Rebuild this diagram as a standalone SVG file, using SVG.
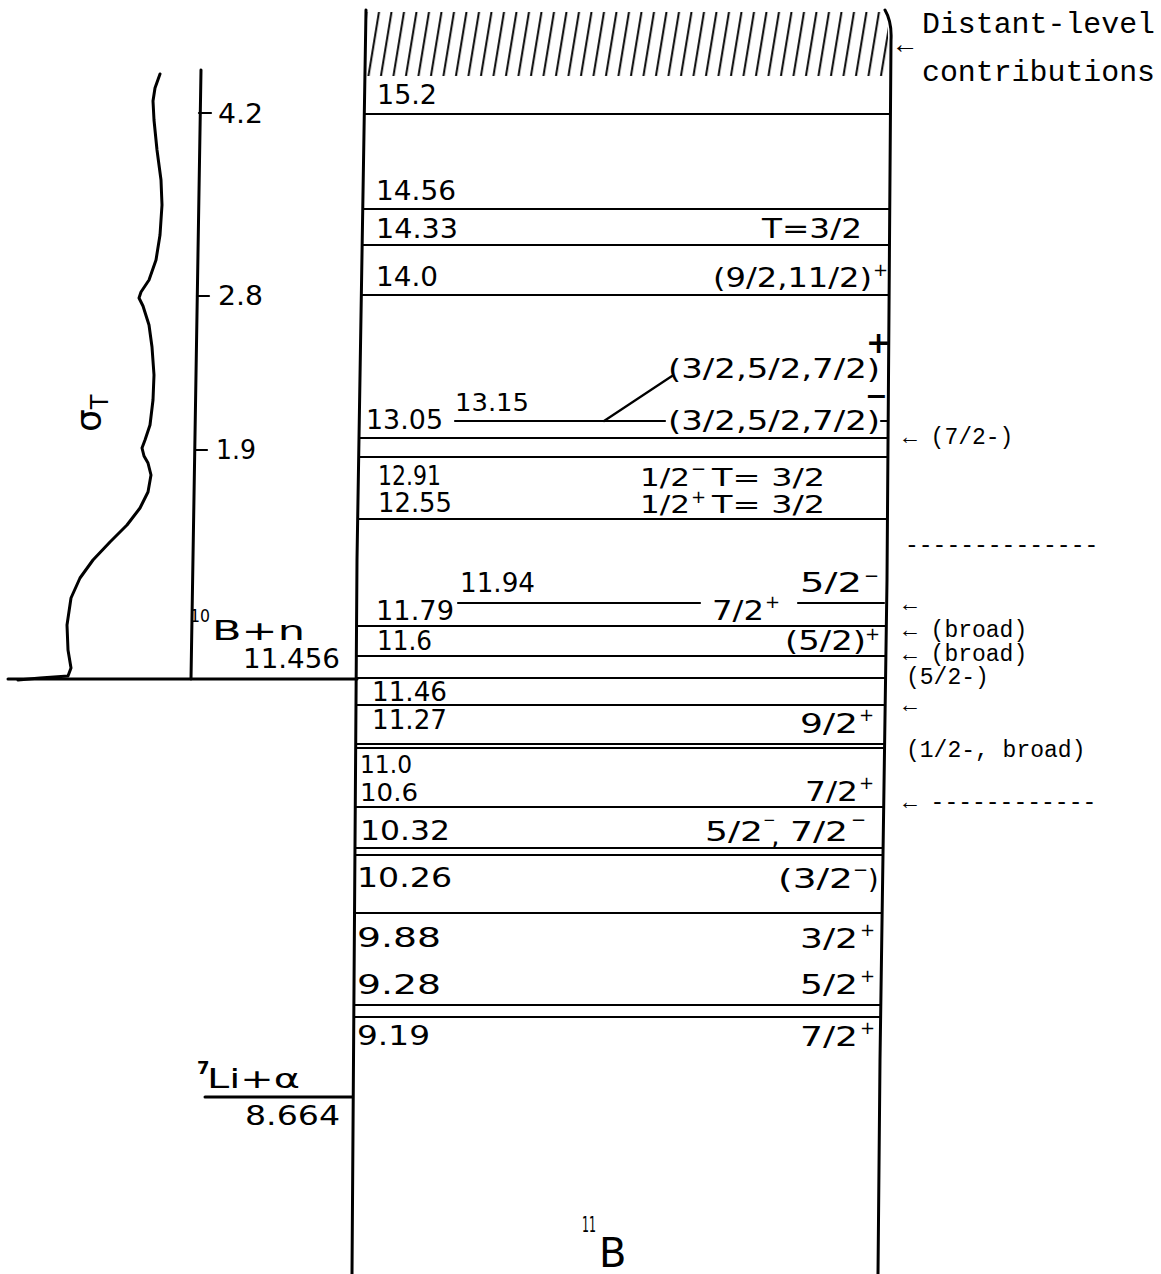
<svg xmlns="http://www.w3.org/2000/svg" width="1161" height="1274" viewBox="0 0 1161 1274">
<style>
.bg{fill:#fff}
.ln{stroke:#000;stroke-width:2.2;fill:none;stroke-linecap:round}
.edge{stroke:#000;stroke-width:3;fill:none;stroke-linecap:round;stroke-linejoin:round}
.t{font-family:"DejaVu Sans","Liberation Sans",sans-serif;font-size:27px;fill:#000}
.s{font-family:"DejaVu Sans","Liberation Sans",sans-serif;font-size:18px;fill:#000}
.m{font-family:"Liberation Mono","DejaVu Sans Mono",monospace;font-size:23px;fill:#000}
.mb{font-family:"Liberation Mono","DejaVu Sans Mono",monospace;font-size:29px;fill:#000}
</style>
<defs>
<pattern id="hatch" patternUnits="userSpaceOnUse" width="12.5" height="200" patternTransform="skewX(-9.35)">
<line x1="6" y1="0" x2="6" y2="200" stroke="#000" stroke-width="2"/>
</pattern>
</defs>
<rect class="bg" x="0" y="0" width="1161" height="1274"/>

<g id="box">
<rect x="366" y="12" width="522" height="64" fill="url(#hatch)"/>
<path class="edge" d="M366 10 L357 560 L352 1274"/>
<path class="edge" d="M885 10 Q892 22 891 40 L887 580 L880 1060 L878 1274"/>
</g>

<g id="levels">
<line class="ln" x1="364" y1="114" x2="890" y2="114"/>
<line class="ln" x1="363" y1="209" x2="889" y2="209"/>
<line class="ln" x1="362" y1="245" x2="889" y2="245"/>
<line class="ln" x1="361" y1="295" x2="889" y2="295"/>
<line class="ln" x1="359" y1="438" x2="888" y2="438"/>
<line class="ln" x1="359" y1="457" x2="888" y2="457"/>
<line class="ln" x1="358" y1="519" x2="887" y2="519"/>
<line class="ln" x1="357" y1="626" x2="886" y2="626"/>
<line class="ln" x1="356" y1="656" x2="886" y2="656"/>
<line class="ln" x1="356" y1="678" x2="886" y2="678"/>
<line class="ln" x1="356" y1="705" x2="885" y2="705"/>
<line class="ln" x1="356" y1="744" x2="885" y2="744"/>
<line class="ln" x1="356" y1="748" x2="885" y2="748"/>
<line class="ln" x1="355" y1="807" x2="884" y2="807"/>
<line class="ln" x1="355" y1="848" x2="883" y2="848"/>
<line class="ln" x1="355" y1="855" x2="883" y2="855"/>
<line class="ln" x1="354" y1="913" x2="882" y2="913"/>
<line class="ln" x1="354" y1="1005" x2="881" y2="1005"/>
<line class="ln" x1="354" y1="1017" x2="881" y2="1017"/>
<line class="ln" x1="455" y1="421" x2="665" y2="421"/>
<line class="ln" x1="604" y1="421" x2="672" y2="376"/>
<line class="ln" x1="881" y1="421" x2="887" y2="421"/>
<line class="ln" x1="458" y1="603" x2="700" y2="603"/>
<line class="ln" x1="798" y1="603" x2="884" y2="603"/>
</g>

<g id="level-labels">
<text class="t" x="377" y="104" textLength="60" lengthAdjust="spacingAndGlyphs">15.2</text>
<text class="t" x="376" y="200" textLength="80" lengthAdjust="spacingAndGlyphs">14.56</text>
<text class="t" x="376" y="238" textLength="82" lengthAdjust="spacingAndGlyphs">14.33</text>
<text class="t" x="376" y="286" textLength="62" lengthAdjust="spacingAndGlyphs">14.0</text>
<text class="t" x="366" y="429" textLength="77" lengthAdjust="spacingAndGlyphs">13.05</text>
<text class="t" x="455" y="411" textLength="74" lengthAdjust="spacingAndGlyphs" style="font-size:25px">13.15</text>
<text class="t" x="378" y="485" textLength="63" lengthAdjust="spacingAndGlyphs">12.91</text>
<text class="t" x="378" y="512" textLength="74" lengthAdjust="spacingAndGlyphs">12.55</text>
<text class="t" x="460" y="592" textLength="75" lengthAdjust="spacingAndGlyphs">11.94</text>
<text class="t" x="376" y="620" textLength="78" lengthAdjust="spacingAndGlyphs">11.79</text>
<text class="t" x="377" y="650" textLength="55" lengthAdjust="spacingAndGlyphs">11.6</text>
<text class="t" x="372" y="701" textLength="75" lengthAdjust="spacingAndGlyphs">11.46</text>
<text class="t" x="372" y="729" textLength="75" lengthAdjust="spacingAndGlyphs">11.27</text>
<text class="t" x="360" y="773" textLength="52" lengthAdjust="spacingAndGlyphs" style="font-size:25px">11.0</text>
<text class="t" x="360" y="801" textLength="58" lengthAdjust="spacingAndGlyphs" style="font-size:25px">10.6</text>
<text class="t" x="360" y="840" textLength="90" lengthAdjust="spacingAndGlyphs">10.32</text>
<text class="t" x="357" y="887" textLength="95" lengthAdjust="spacingAndGlyphs">10.26</text>
<text class="t" x="357" y="947" textLength="84" lengthAdjust="spacingAndGlyphs">9.88</text>
<text class="t" x="357" y="994" textLength="84" lengthAdjust="spacingAndGlyphs">9.28</text>
<text class="t" x="357" y="1045" textLength="73" lengthAdjust="spacingAndGlyphs">9.19</text>
</g>

<g id="spin-labels">
<text class="t" x="762" y="238" textLength="100" lengthAdjust="spacingAndGlyphs">T=3/2</text>
<text class="t" x="713" y="287" textLength="159" lengthAdjust="spacingAndGlyphs">(9/2,11/2)</text>
<text class="s" x="873" y="276">+</text>
<text class="t" x="668" y="378" textLength="212" lengthAdjust="spacingAndGlyphs">(3/2,5/2,7/2)</text>
<text class="t" x="866" y="353" style="font-size:30px;font-weight:bold">+</text>
<text class="t" x="865" y="405" style="font-weight:bold">−</text>
<text class="t" x="668" y="430" textLength="212" lengthAdjust="spacingAndGlyphs">(3/2,5/2,7/2)</text>
<text class="t" x="640" y="486" textLength="50" lengthAdjust="spacingAndGlyphs" style="font-size:25px">1/2</text>
<text class="s" x="691" y="475">−</text>
<text class="t" x="712" y="486" textLength="113" lengthAdjust="spacingAndGlyphs" style="font-size:25px">T= 3/2</text>
<text class="t" x="640" y="513" textLength="50" lengthAdjust="spacingAndGlyphs" style="font-size:25px">1/2</text>
<text class="s" x="691" y="503">+</text>
<text class="t" x="712" y="513" textLength="113" lengthAdjust="spacingAndGlyphs" style="font-size:25px">T= 3/2</text>
<text class="t" x="712" y="620" textLength="52" lengthAdjust="spacingAndGlyphs">7/2</text>
<text class="s" x="765" y="608">+</text>
<text class="t" x="800" y="592" textLength="62" lengthAdjust="spacingAndGlyphs">5/2</text>
<text class="s" x="864" y="582">−</text>
<text class="t" x="785" y="650" textLength="81" lengthAdjust="spacingAndGlyphs">(5/2)</text>
<text class="s" x="865" y="640">+</text>
<text class="t" x="800" y="733" textLength="58" lengthAdjust="spacingAndGlyphs">9/2</text>
<text class="s" x="859" y="721">+</text>
<text class="t" x="805" y="801" textLength="53" lengthAdjust="spacingAndGlyphs">7/2</text>
<text class="s" x="859" y="789">+</text>
<text class="t" x="705" y="841" textLength="58" lengthAdjust="spacingAndGlyphs">5/2</text>
<text class="s" x="763" y="825" style="font-size:15px">−</text>
<text class="t" x="771" y="845">,</text>
<text class="t" x="790" y="841" textLength="58" lengthAdjust="spacingAndGlyphs">7/2</text>
<text class="s" x="851" y="826">−</text>
<text class="t" x="778" y="888" textLength="75" lengthAdjust="spacingAndGlyphs">(3/2</text>
<text class="s" x="853" y="876">−</text>
<text class="t" x="868" y="888">)</text>
<text class="t" x="800" y="948" textLength="58" lengthAdjust="spacingAndGlyphs">3/2</text>
<text class="s" x="860" y="936">+</text>
<text class="t" x="800" y="994" textLength="58" lengthAdjust="spacingAndGlyphs">5/2</text>
<text class="s" x="860" y="982">+</text>
<text class="t" x="800" y="1046" textLength="58" lengthAdjust="spacingAndGlyphs">7/2</text>
<text class="s" x="860" y="1034">+</text>
</g>

<g id="thresholds">
<line class="edge" x1="8" y1="679" x2="357" y2="679"/>
<text class="s" x="190" y="622" textLength="20" lengthAdjust="spacingAndGlyphs">10</text>
<text class="t" x="212" y="640" textLength="93" lengthAdjust="spacingAndGlyphs">B+n</text>
<text class="t" x="243" y="668" textLength="97" lengthAdjust="spacingAndGlyphs">11.456</text>
<line class="edge" x1="205" y1="1097" x2="352" y2="1097"/>
<text class="s" x="197" y="1074" style="font-weight:bold">7</text>
<text class="t" x="207" y="1088" textLength="93" lengthAdjust="spacingAndGlyphs">Li+α</text>
<text class="t" x="245" y="1125" textLength="95" lengthAdjust="spacingAndGlyphs">8.664</text>
</g>

<g id="nucleus">
<text class="s" x="582" y="1232" textLength="14" lengthAdjust="spacingAndGlyphs" style="font-size:21px">11</text>
<text class="t" x="599" y="1267" style="font-size:40px">B</text>
</g>

<g id="cross-section">
<line class="edge" x1="201" y1="70" x2="191" y2="679"/>
<line class="ln" x1="199" y1="113" x2="211" y2="113"/>
<line class="ln" x1="197" y1="296" x2="209" y2="296"/>
<line class="ln" x1="196" y1="450" x2="207" y2="450"/>
<text class="t" x="218" y="123" textLength="45" lengthAdjust="spacingAndGlyphs">4.2</text>
<text class="t" x="218" y="305" textLength="45" lengthAdjust="spacingAndGlyphs">2.8</text>
<text class="t" x="216" y="459" textLength="40" lengthAdjust="spacingAndGlyphs">1.9</text>
<polyline class="edge" points="160,74 155,88 153,101 154,120 157,150 161,180 162,205 160,235 156,260 149,280 141,292 139,298 143,306 149,325 152,347 154,375 153,400 150,425 145,440 142,448 144,456 148,463 151,475 148,492 140,508 127,525 110,542 93,560 80,578 71,598 67,625 68,650 71,668 68,676 40,678 18,680"/>
<text class="t" transform="translate(101,432) rotate(-90)" style="font-size:36px">σ<tspan style="font-size:24px" dy="7">T</tspan></text>
</g>

<g id="annotations">
<text class="m" x="897" y="53" style="font-size:27px">←</text>
<text class="mb" x="922" y="33" textLength="233" lengthAdjust="spacingAndGlyphs">Distant-level</text>
<text class="mb" x="922" y="81" textLength="233" lengthAdjust="spacingAndGlyphs">contributions</text>
<text class="m" x="903" y="444">← (7/2-)</text>
<text class="m" x="905" y="552">--------------</text>
<text class="m" x="903" y="611">←</text>
<text class="m" x="903" y="637">← (broad)</text>
<text class="m" x="903" y="661">← (broad)</text>
<text class="m" x="906" y="684">(5/2-)</text>
<text class="m" x="903" y="712">←</text>
<text class="m" x="906" y="757">(1/2-, broad)</text>
<text class="m" x="903" y="809">← ------------</text>
</g>
</svg>
